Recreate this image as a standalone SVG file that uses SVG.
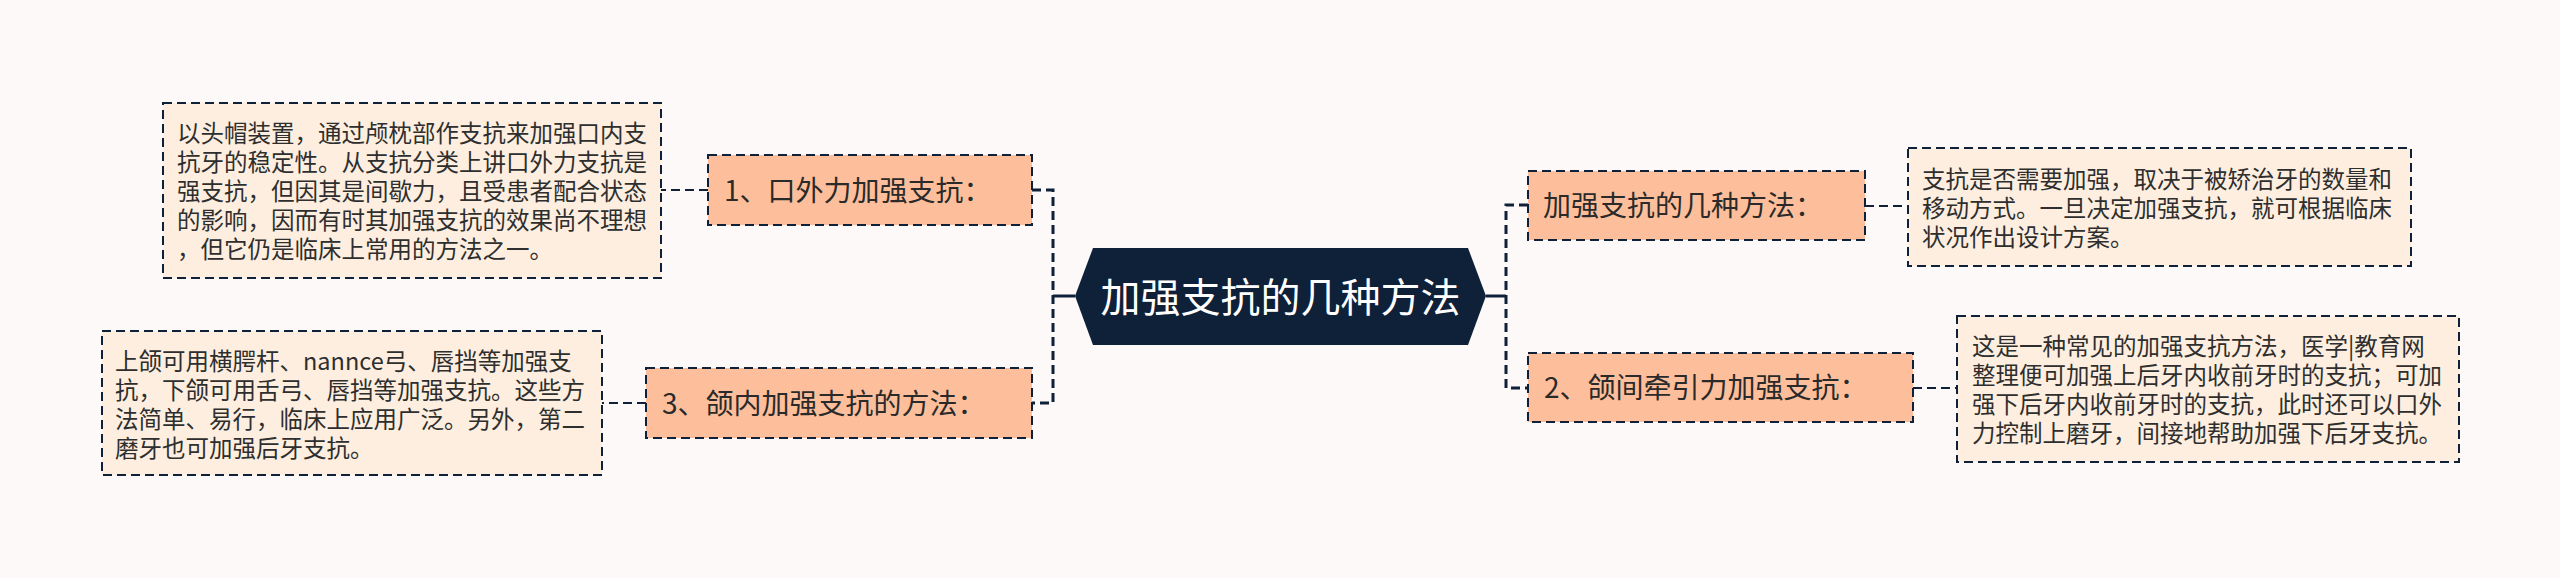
<svg xmlns="http://www.w3.org/2000/svg" width="2560" height="578" viewBox="0 0 2560 578">
<style>
.bg{fill:#fdf9f8}
.detail rect{fill:#fdeee0;stroke:#0f2039;stroke-width:2;stroke-dasharray:9 5}
.detail text{font-family:"Noto Sans CJK SC","Noto Sans",sans-serif;font-size:23.5px;fill:#2e2e2e}
.topic rect{fill:#fdbf9b;stroke:#0f2039;stroke-width:2;stroke-dasharray:9 5}
.topic text{font-family:"Noto Sans CJK SC","Noto Sans",sans-serif;font-size:28px;fill:#2a2a2a}
.root polygon{fill:#0f2039}
.root text{font-family:"Noto Sans CJK SC","Noto Sans",sans-serif;font-size:40px;fill:#ffffff}
.solid{fill:none;stroke:#0f2039;stroke-width:3}
.trunk{fill:none;stroke:#0f2039;stroke-width:3;stroke-dasharray:9 5}
.leaf{fill:none;stroke:#0f2039;stroke-width:2;stroke-dasharray:9 5}
</style>
<rect class="bg" x="0" y="0" width="2560" height="578"/>
<g id="connectors">
<path class="solid" d="M1075,296 H1053"/>
<path class="trunk" d="M1032,190 H1053 V403 H1032"/>
<path class="solid" d="M1486,296 H1506"/>
<path class="trunk" d="M1528,205 H1506 V388 H1528"/>
<path class="leaf" d="M708,190 H661"/>
<path class="leaf" d="M646,403 H602"/>
<path class="leaf" d="M1865,206 H1908"/>
<path class="leaf" d="M1913,388 H1957"/>
</g>
<g id="root" class="root">
<polygon points="1075,296 1093,248 1468,248 1486,296 1468,345 1093,345"/>
<text x="1280.5" y="312" text-anchor="middle">加强支抗的几种方法</text>
</g>
<g id="topic1" class="topic">
<rect x="708" y="155" width="324" height="70"/>
<text x="724" y="201">1、口外力加强支抗：</text>
</g>
<g id="topic3" class="topic">
<rect x="646" y="368" width="386" height="70"/>
<text x="662" y="414">3、颌内加强支抗的方法：</text>
</g>
<g id="topicR1" class="topic">
<rect x="1528" y="171" width="337" height="69"/>
<text x="1543" y="216">加强支抗的几种方法：</text>
</g>
<g id="topic2" class="topic">
<rect x="1528" y="353" width="385" height="69"/>
<text x="1544" y="398">2、颌间牵引力加强支抗：</text>
</g>
<g id="detail1" class="detail">
<rect x="163" y="103" width="498" height="175"/>
<text x="177" y="142">以头帽装置，通过颅枕部作支抗来加强口内支</text>
<text x="177" y="171">抗牙的稳定性。从支抗分类上讲口外力支抗是</text>
<text x="177" y="200">强支抗，但因其是间歇力，且受患者配合状态</text>
<text x="177" y="229">的影响，因而有时其加强支抗的效果尚不理想</text>
<text x="177" y="258">，但它仍是临床上常用的方法之一。</text>
</g>
<g id="detail3" class="detail">
<rect x="102" y="331" width="500" height="144"/>
<text x="115" y="370">上颌可用横腭杆、nannce弓、唇挡等加强支</text>
<text x="115" y="399">抗，下颌可用舌弓、唇挡等加强支抗。这些方</text>
<text x="115" y="428">法简单、易行，临床上应用广泛。另外，第二</text>
<text x="115" y="457">磨牙也可加强后牙支抗。</text>
</g>
<g id="detailR1" class="detail">
<rect x="1908" y="148" width="503" height="118"/>
<text x="1922" y="188">支抗是否需要加强，取决于被矫治牙的数量和</text>
<text x="1922" y="217">移动方式。一旦决定加强支抗，就可根据临床</text>
<text x="1922" y="246">状况作出设计方案。</text>
</g>
<g id="detail2" class="detail">
<rect x="1957" y="316" width="502" height="146"/>
<text x="1972" y="355">这是一种常见的加强支抗方法，医学|教育网</text>
<text x="1972" y="384">整理便可加强上后牙内收前牙时的支抗；可加</text>
<text x="1972" y="413">强下后牙内收前牙时的支抗，此时还可以口外</text>
<text x="1972" y="442">力控制上磨牙，间接地帮助加强下后牙支抗。</text>
</g>
</svg>
